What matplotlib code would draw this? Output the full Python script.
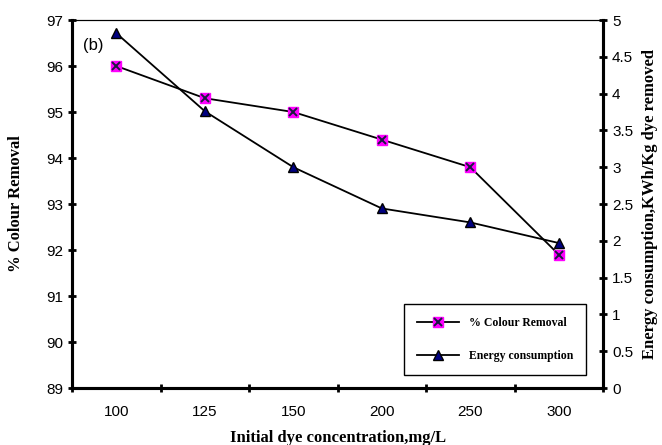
import numpy as np
import matplotlib.pyplot as plt

concentrations = ["100", "125", "150", "200", "250", "300"]
colour_removal = [96.0, 95.3, 95.0, 94.4, 93.8, 91.9]
energy = [4.82, 3.76, 3.0, 2.44, 2.25, 1.97]

x = np.arange(len(concentrations))

fig = plt.figure(figsize=(6.62, 4.45), dpi=100)
ax = fig.add_axes([0.109, 0.128, 0.802, 0.827])
ax2 = ax.twinx()

# colour removal: magenta square with dark cross
l1, = ax.plot(x, colour_removal, color="black", lw=1.3, marker="s", ms=7,
              mfc="#ff00ff", mec="#ff00ff", zorder=3)
l1x, = ax.plot(x, colour_removal, ls="none", marker="x", ms=6, mew=1.4,
               color="#1a1a40", zorder=4)
l2, = ax2.plot(x, energy, color="black", lw=1.3, marker="^", ms=7.5,
               mfc="#000080", mec="black", zorder=3)

ax.set_xlim(-0.5, len(x) - 0.5)
ax.set_ylim(89, 97)
ax2.set_ylim(0, 5)
ax.set_yticks(np.arange(89, 98, 1))
ax2.set_yticks(np.arange(0, 5.01, 0.5))
ax2.set_yticklabels(["0", "0.5", "1", "1.5", "2", "2.5", "3", "3.5", "4", "4.5", "5"])

ax.set_xticks(np.arange(-0.5, len(x), 1.0))
ax.set_xticklabels([])
ax.set_xticks(x, minor=True)
ax.set_xticklabels(concentrations, minor=True)
ax.tick_params(axis="x", which="minor", length=0, pad=12)
ax.tick_params(axis="x", which="major", direction="inout", length=6, width=2)
ax.tick_params(axis="y", direction="inout", length=6, width=2)
ax2.tick_params(axis="y", direction="inout", length=6, width=2)

for a in (ax, ax2):
    for s in ("left", "right", "bottom"):
        a.spines[s].set_linewidth(2.2)
    a.spines["top"].set_linewidth(0.8)
    for lab in a.get_xticklabels(minor=True) + a.get_yticklabels():
        lab.set_fontfamily("Liberation Sans")
        lab.set_fontsize(11)

serif = {"family": "Liberation Serif", "weight": "bold", "size": 12}
ax.set_xlabel("Initial dye concentration,mg/L", fontdict=serif, labelpad=8)
ax.set_ylabel("% Colour Removal", fontdict=serif, labelpad=16)
ax2.set_ylabel("Energy consumption,KWh/Kg dye removed", fontdict=serif, labelpad=6)

ax.text(0.02, 0.93, "(b)", transform=ax.transAxes, fontsize=12,
        family="Liberation Sans", va="center")

leg = ax.legend([(l1, l1x), l2], ["% Colour Removal", "Energy consumption"],
                loc="lower right", bbox_to_anchor=(0.975, 0.025),
                prop={"family": "Liberation Serif", "weight": "bold", "size": 8.5},
                fancybox=False, edgecolor="black", framealpha=1,
                labelspacing=1.8, borderpad=1.1, handlelength=3.6,
                borderaxespad=0.3)
leg.get_frame().set_linewidth(1.0)
leg.set_zorder(10)

fig.savefig("out.png", dpi=100)
